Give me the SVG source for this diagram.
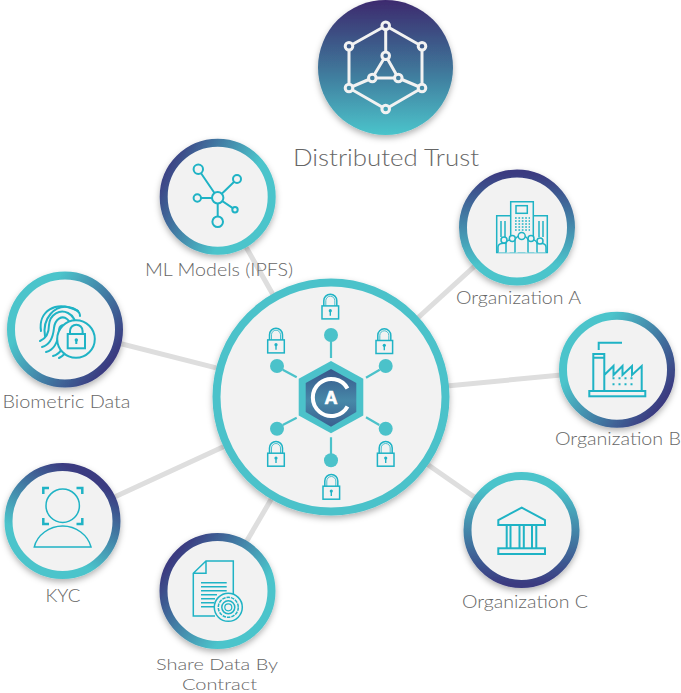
<svg xmlns="http://www.w3.org/2000/svg" width="681" height="693" viewBox="0 0 681 693">
<style>
.lbl{font-family:"Lato","Open Sans","Liberation Sans",sans-serif;font-weight:300;font-size:17.5px;fill:#666;text-anchor:middle}
.ring{fill:#f2f2f2;stroke-width:8}
.ic{fill:none;stroke:#1fb3c5;stroke-width:2;stroke-linejoin:miter}
.thin{stroke-width:1.5}
.tw{fill:url(#topFill);stroke:#f2f2f2;stroke-width:3}
.conn{stroke:#dedede;stroke-width:5;fill:none}
.dot{fill:#4bc2ca}
.sp{stroke:#4bc2ca;stroke-width:2.2}
</style>
<defs>
<linearGradient id="topFill" gradientUnits="userSpaceOnUse" x1="385.5" y1="0" x2="385.5" y2="135"><stop offset="0" stop-color="#3c2a6e"/><stop offset=".5" stop-color="#3f7398"/><stop offset="1" stop-color="#4bc4cb"/></linearGradient>
<linearGradient id="hexFill" x1="0" y1="0" x2="0" y2="1"><stop offset="0" stop-color="#36568a"/><stop offset=".55" stop-color="#4788a8"/><stop offset="1" stop-color="#3a6090"/></linearGradient>
<linearGradient id="gDown" x1="0" y1="0" x2="0" y2="1"><stop offset="0" stop-color="#3a3a80"/><stop offset=".85" stop-color="#4bc4cb"/></linearGradient>
<linearGradient id="gUp" x1="0" y1="0" x2="0" y2="1"><stop offset=".1" stop-color="#4bc4cb"/><stop offset="1" stop-color="#3a3a80"/></linearGradient>
<linearGradient id="gML" x1="0" y1=".2" x2="1" y2=".7"><stop offset="0" stop-color="#3a3a80"/><stop offset=".7" stop-color="#4bc4cb"/></linearGradient>
<linearGradient id="gBio" x1="0" y1=".1" x2="1" y2=".8"><stop offset=".25" stop-color="#4bc4cb"/><stop offset=".95" stop-color="#3a3a80"/></linearGradient>
<linearGradient id="gKyc" x1=".8" y1="0" x2=".25" y2="1"><stop offset=".1" stop-color="#3a3a80"/><stop offset=".75" stop-color="#4bc4cb"/></linearGradient>
<linearGradient id="gSh" x1="0" y1=".1" x2="1" y2=".85"><stop offset=".1" stop-color="#3a3a80"/><stop offset=".75" stop-color="#4bc4cb"/></linearGradient>
<filter id="sh" x="-20%" y="-20%" width="140%" height="140%"><feDropShadow dx="0" dy="3" stdDeviation="3" flood-color="#000" flood-opacity=".3"/></filter>
<symbol id="lock" overflow="visible">
<g fill="none" stroke="#1fb3c5" stroke-width="1.5">
<rect x="-8.3" y="-.8" width="16.6" height="13"/>
<path d="M-6.5-.8V-6a6.5 6.5 0 0 1 13 0V-.8"/>
<path d="M-4.5-.8V-6a4.5 4.5 0 0 1 9 0V-.8" stroke-width=".8"/>
<path d="M0 4.5V9" stroke-width="1.4"/>
</g><circle cx="0" cy="4" r="1.6" fill="#1fb3c5"/>
</symbol>
</defs>

<g id="connectors">
<line class="conn" x1="217.7" y1="197" x2="331" y2="397"/>
<line class="conn" x1="65" y1="329.5" x2="331" y2="397"/>
<line class="conn" x1="62.5" y1="521" x2="331" y2="397"/>
<line class="conn" x1="217.5" y1="591" x2="331" y2="397"/>
<line class="conn" x1="517" y1="227.5" x2="331" y2="397"/>
<line class="conn" x1="617" y1="369.7" x2="331" y2="397"/>
<line class="conn" x1="521.5" y1="530" x2="331" y2="397"/>
</g>

<g id="node-trust">
<circle cx="385.5" cy="67.5" r="67.5" fill="url(#topFill)" filter="url(#sh)"/>
<path fill="none" stroke="#f2f2f2" stroke-width="3" d="M385.7 25.7L349 46.3V88L385.7 109L422 88V46.3ZM385.7 25.7V55.7L372.3 78H398.3L385.7 55.7M349 88L372.3 78M422 88L398.3 78"/>
<circle class="tw" cx="385.7" cy="25.7" r="3.8"/><circle class="tw" cx="349" cy="46.3" r="3.8"/><circle class="tw" cx="422" cy="46.3" r="3.8"/><circle class="tw" cx="349" cy="88" r="3.8"/><circle class="tw" cx="422" cy="88" r="3.8"/><circle class="tw" cx="385.7" cy="109" r="3.8"/><circle class="tw" cx="385.7" cy="55.7" r="3.8"/><circle class="tw" cx="372.3" cy="78" r="3.8"/><circle class="tw" cx="398.3" cy="78" r="3.8"/>
<text class="lbl" x="386" y="165.5" style="font-size:24px" textLength="186" lengthAdjust="spacingAndGlyphs">Distributed Trust</text>
</g>

<g id="node-center">
<circle cx="331" cy="397" r="114.5" fill="#f2f2f2" stroke="#4bc2ca" stroke-width="8" filter="url(#sh)"/>
<path class="sp" d="M331 341V358M282.7 369.7L296.7 377.3M379.7 369.7L366 377.7M296.7 417.7L282.7 425M366 417.3L379.3 425M331 437.3V454.3"/>
<circle class="dot" cx="331" cy="335" r="7"/><circle class="dot" cx="277" cy="366" r="7"/><circle class="dot" cx="385.7" cy="366" r="7"/><circle class="dot" cx="277" cy="428.7" r="7"/><circle class="dot" cx="385.7" cy="428.7" r="7"/><circle class="dot" cx="331" cy="460.3" r="7"/>
<polygon points="331,361 363.3,378.7 363.3,415.5 331,433.3 298.7,415.5 298.7,378.7" fill="#4bc2ca"/>
<polygon points="331,369 356.3,383 356.3,412 331,426.7 305.7,412 305.7,383" fill="url(#hexFill)"/>
<path d="M347.500 388.500A18.500 18.500 0 1 0 347.500 406.500" fill="none" stroke="#fff" stroke-width="4"/>
<text x="331" y="403.500" font-family="Liberation Sans,sans-serif" font-weight="700" font-size="18" fill="#fff" stroke="#fff" stroke-width=".7" text-anchor="middle">A</text>
<use href="#lock" x="330.3" y="306.7"/><use href="#lock" x="276" y="340.7"/><use href="#lock" x="384.3" y="341.3"/><use href="#lock" x="276" y="454"/><use href="#lock" x="385.7" y="454"/><use href="#lock" x="331.3" y="487"/>
</g>

<g id="node-ml">
<circle class="ring" cx="217.7" cy="196.7" r="54" stroke="url(#gML)" filter="url(#sh)"/>
<path class="ic" d="M198.3 169.3L217.7 197.7L237 179M197.3 198H217.7L235 209.7M217.7 197.7V221.7"/>
<g class="ic" style="fill:#f2f2f2"><circle cx="217.7" cy="197.7" r="5.7"/><circle cx="198.3" cy="169.3" r="4.7"/><circle cx="237" cy="179" r="4"/><circle cx="197.3" cy="198" r="3.7"/><circle cx="235" cy="209.7" r="2.7"/><circle cx="217.7" cy="221.7" r="5.3"/></g>
<text class="lbl" x="219" y="276" textLength="148" lengthAdjust="spacingAndGlyphs">ML Models (IPFS)</text>
</g>

<g id="node-biometric">
<circle class="ring" cx="65" cy="329.5" r="54" stroke="url(#gBio)" filter="url(#sh)"/>
<g class="ic" stroke-linecap="round">
<path d="M41 331C38 312 55 299 78 311"/>
<path d="M45 336C42 318 55 305 68 307C76 308 80 312 80 316"/>
<path d="M40 341C47 338 49 332 49 325C50 314 60 309 68 313C74 316 76 322 75 325"/>
<path d="M42 347C50 345 53 338 54 328C55 319 62 315 67 319C71 322 71 328 70 332"/>
<path d="M46 352C54 350 58 342 59 331C59 325 64 323 66 328"/>
<path d="M53 356C60 354 64 348 64 338"/>
<path d="M59 358C63 356 66 353 68 349"/>
</g>
<circle cx="76" cy="339" r="18.8" fill="#f2f2f2" stroke="#1fb3c5" stroke-width="2"/>
<g class="ic"><rect x="67.7" y="334" width="17.3" height="14.3"/><path d="M70 334V331a6.3 6.3 0 0 1 12.6 0V334M76.3 340V344"/></g>
<circle cx="76.3" cy="340" r="1.7" fill="#1fb3c5"/>
<text class="lbl" x="66.5" y="408" textLength="128" lengthAdjust="spacingAndGlyphs">Biometric Data</text>
</g>

<g id="node-kyc">
<circle class="ring" cx="62.5" cy="521" r="54" stroke="url(#gKyc)" filter="url(#sh)"/>
<circle class="ic thin" cx="62.7" cy="505.7" r="16.7"/>
<path class="ic thin" d="M34.3 547H91C88 535 76 526 62.7 526S37 535 34.3 547Z"/>
<path class="ic" style="stroke-width:2.5" d="M49 488H43.300V494M76.500 488H82.300V494M43.300 518V524H49M82.300 518V524H76.500"/>
<text class="lbl" x="63" y="602" textLength="35" lengthAdjust="spacingAndGlyphs">KYC</text>
</g>

<g id="node-share">
<circle class="ring" cx="217.5" cy="591" r="54" stroke="url(#gSh)" filter="url(#sh)"/>
<path class="ic thin" d="M215 616H193.300V573.300L206 561H233.300V595M206 561V573.300H193.300"/>
<path class="ic thin" d="M201 582.700H226.700M201 586.700H226.700M201 590.700H226.700M201 594.700H217M201 598.700H215M201 602.700H214M201 606.700H214"/>
<circle cx="228.300" cy="607.300" r="14" fill="#f2f2f2" stroke="#1fb3c5" stroke-width="1.500"/>
<circle cx="228.300" cy="607.300" r="10" fill="none" stroke="#1fb3c5" stroke-width="1.500" stroke-dasharray="3.500 1"/>
<circle cx="228.300" cy="607.300" r="6.500" fill="none" stroke="#1fb3c5" stroke-width="1.500"/>
<circle cx="228.300" cy="607.300" r="3.500" fill="none" stroke="#1fb3c5" stroke-width="1.200"/>
<text class="lbl" x="217" y="669.500" style="font-size:16.5px" textLength="122" lengthAdjust="spacingAndGlyphs">Share Data By</text>
<text class="lbl" x="219.500" y="689.500" style="font-size:16.5px" textLength="75" lengthAdjust="spacingAndGlyphs">Contract</text>
</g>

<g id="node-orga">
<circle class="ring" cx="517" cy="227.500" r="54" stroke="url(#gDown)" filter="url(#sh)"/>
<path class="ic thin" d="M510.700 237V201.700H533.300V237M510.700 215.700H496.700V252.500H547.300V215.700H533.300"/>
<rect class="ic thin" x="516" y="205.700" width="11.300" height="7.600"/>
<path d="M515 218H530M515 221H530M515 224H530M515 227H530M515 230H530" stroke="#1fb3c5" stroke-width="1.500" stroke-dasharray="1.700 1.700" fill="none"/>
<path class="ic thin" d="M501 221V237M505 221V237M539 221V237M543 221V237"/>
<g class="ic thin" style="fill:#f2f2f2">
<path d="M498 252.500V247C498 242 510 242 510 247V252.500"/><path d="M534 252.500V247C534 242 546 242 546 247V252.500"/>
<circle cx="504" cy="240" r="3"/><circle cx="540" cy="241" r="3"/>
<path d="M506 252.500V244C506 238 518 238 518 244V252.500"/><path d="M525 252.500V244C525 238 537 238 537 244V252.500"/>
<circle cx="512.300" cy="238.500" r="3"/><circle cx="531" cy="238.500" r="3"/>
<path d="M515 252.500V241C515 234 528 234 528 241V252.500"/>
<circle cx="521.700" cy="236" r="3.500"/>
</g>
<text class="lbl" x="518.500" y="304" textLength="125" lengthAdjust="spacingAndGlyphs">Organization A</text>
</g>

<g id="node-orgb">
<circle class="ring" cx="617" cy="369.700" r="54" stroke="url(#gBio)" filter="url(#sh)"/>
<path class="ic" d="M598.700 350V342.700H622M593.300 391V354H604.300V391M593.300 357.700H604.300M604.300 375L613.500 366V375L622.500 366V375L632 366V375L641.700 366V391"/>
<rect class="ic" x="589.300" y="391" width="56" height="5.300"/>
<path d="M612.500 378.300H633M612.500 384.300H633" stroke="#1fb3c5" stroke-width="2" stroke-dasharray="2 4" fill="none"/>
<text class="lbl" x="618" y="445" textLength="126" lengthAdjust="spacingAndGlyphs">Organization B</text>
</g>

<g id="node-orgc">
<circle class="ring" cx="521.500" cy="530" r="54" stroke="url(#gUp)" filter="url(#sh)"/>
<path class="ic" d="M521.700 507.700L498.300 520V525H545V520Z"/>
<path class="ic" d="M506.700 525V548.300M510.500 525V548.300M519.500 525V548.300M523.800 525V548.300M532 525V548.300M536.300 525V548.300"/>
<rect class="ic" x="498.300" y="548.300" width="46.700" height="5.700"/>
<text class="lbl" x="525" y="608" textLength="126" lengthAdjust="spacingAndGlyphs">Organization C</text>
</g>
</svg>
